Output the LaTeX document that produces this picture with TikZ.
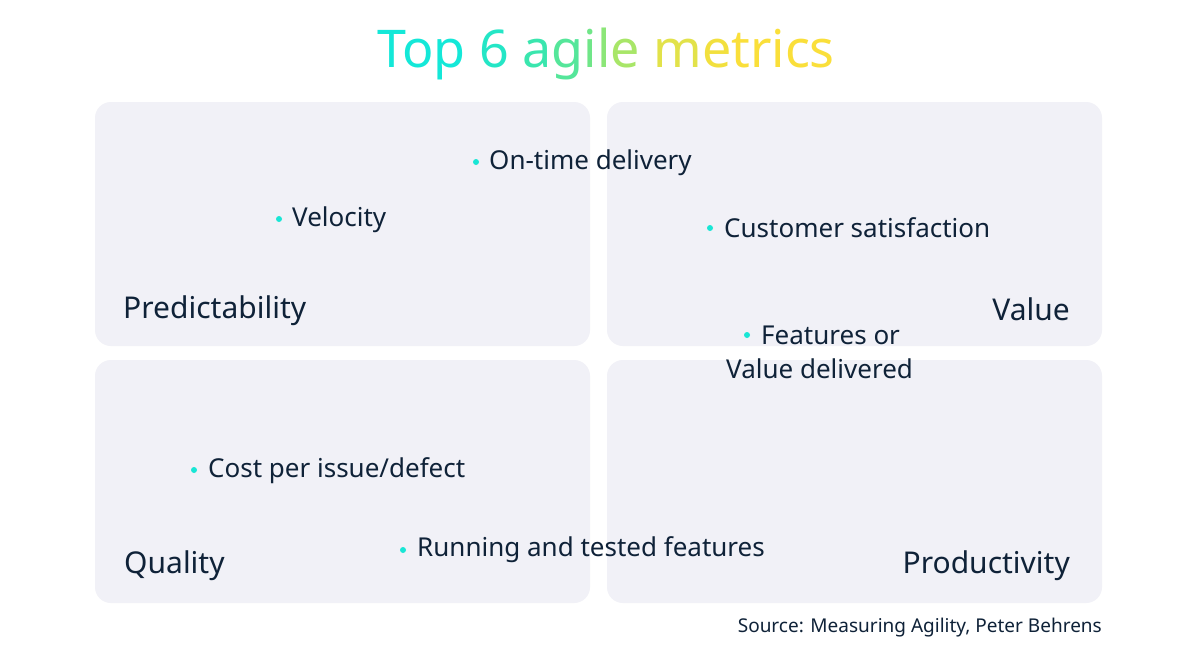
\documentclass[tikz,border=0pt]{standalone}
\usepackage{fontspec}
\setmainfont{Noto Sans}
\definecolor{boxbg}{HTML}{F1F1F7}
\definecolor{ink}{HTML}{0F2238}
\definecolor{dotc}{HTML}{19E6D5}
\begin{document}
\begin{tikzpicture}[x=1pt,y=-1pt,
  panel/.style={fill=boxbg,rounded corners=16pt},
  item/.style={anchor=west,inner sep=0pt,text=ink,font=\fontsize{26}{30}\selectfont},
  cat/.style={inner sep=0pt,text=ink,font=\bfseries\fontsize{30}{34}\selectfont},
  bul/.style={fill=dotc,circle,inner sep=0pt,minimum size=6pt}]
\useasboundingbox (0,0) rectangle (1200,654);
\fill[white] (0,0) rectangle (1200,654);
\path[panel] (95,102) rectangle (590,346);
\path[panel] (607,102) rectangle (1102,346);
\path[panel] (95,360) rectangle (590,603);
\path[panel] (607,360) rectangle (1102,603);
\node[inner sep=0pt,font=\bfseries\fontsize{52}{60}\selectfont] (title) at (606,54) {%
\textcolor[HTML]{14E8D8}{Top} \textcolor[HTML]{24E6C6}{6} %
\textcolor[HTML]{3AE6AE}{a}\textcolor[HTML]{55E69A}{g}\textcolor[HTML]{70E688}{i}\textcolor[HTML]{8CE678}{l}\textcolor[HTML]{A8E668}{e} %
\textcolor[HTML]{E2E24A}{m}\textcolor[HTML]{F2E03E}{e}\textcolor[HTML]{FADF3A}{trics}};
\node[bul] (d1) at (476,162) {}; \node[item] (t1) at (489,163) {On-time delivery};
\node[bul] (d2) at (279,219) {}; \node[item] (t2) at (292,220) {Velocity};
\node[bul] (d3) at (710,228) {}; \node[item] (t3) at (724,228) {Customer satisfaction};
\node[bul] (d4) at (747,335) {}; \node[item] (t4) at (761,335) {Features or};
\node[item] (t4b) at (726,369) {Value delivered};
\node[bul] (d5) at (194,470) {}; \node[item] (t5) at (208,471) {Cost per issue/defect};
\node[bul] (d6) at (403,550) {}; \node[item] (t6) at (417,550) {Running and tested features};
\node[cat,anchor=west] (c1) at (123,311) {Predictability};
\node[cat,anchor=east] (c2) at (1070,309) {Value};
\node[cat,anchor=west] (c3) at (124,566) {Quality};
\node[cat,anchor=east] (c4) at (1070,566) {Productivity};
\node[inner sep=0pt,anchor=east,text=ink,font=\fontsize{19}{22}\selectfont] (src) at (1102,628) {Source: Measuring Agility, Peter Behrens};
\end{tikzpicture}
\end{document}
